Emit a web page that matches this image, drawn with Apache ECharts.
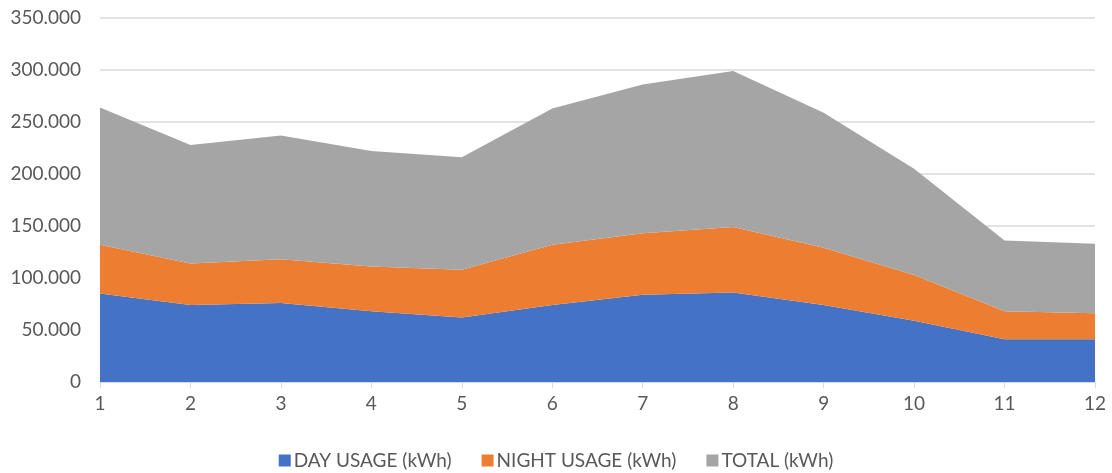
<!DOCTYPE html>
<html>
<head>
<meta charset="utf-8">
<script src="https://cdn.jsdelivr.net/npm/echarts@6/dist/echarts.min.js"></script>
<style>
  html, body { margin: 0; padding: 0; background: #fff; }
  #chart { width: 1112px; height: 473px; }
</style>
</head>
<body>
<div id="chart"></div>
<script>
// months on the x axis
var months = ['1', '2', '3', '4', '5', '6', '7', '8', '9', '10', '11', '12']
// values (kWh)
var dayUsage = [85, 74, 76, 68, 62, 74, 84, 86, 74, 59, 41, 41]
var nightUsage = [47, 40, 42, 43, 46, 58, 59, 63, 55, 44, 27, 25]
var totalUsage = [132, 114, 119, 111, 108, 131, 143, 150, 130, 102, 68, 67]

var textColor = '#595959'
var fontName = 'Lato, "Noto Sans", sans-serif'

var chart = echarts.init(document.getElementById('chart'))

function areaSeries (name, color, data) {
  return {
    name: name,
    type: 'line',
    stack: 'usage',
    symbol: 'none',
    lineStyle: { width: 0 },
    areaStyle: { color: color, opacity: 1 },
    itemStyle: { color: color },
    data: data
  }
}

var option = {
  animation: false,
  textStyle: { fontFamily: fontName },
  grid: {
    left: 100,
    right: 17,
    top: 18,
    bottom: 91
  },
  legend: {
    top: 446,
    left: 'center',
    itemWidth: 12,
    itemHeight: 12,
    itemGap: 30,
    icon: 'rect',
    textStyle: { color: textColor, fontSize: 19, fontFamily: fontName, padding: [0, 0, 0, -2] },
    data: ['DAY USAGE (kWh)', 'NIGHT USAGE (kWh)', 'TOTAL (kWh)']
  },
  xAxis: {
    type: 'category',
    boundaryGap: false,
    data: months,
    axisLine: { lineStyle: { color: '#d9d9d9' } },
    axisTick: { show: true, length: 6, lineStyle: { color: '#d9d9d9' } },
    axisLabel: { color: textColor, fontSize: 19, margin: 12 }
  },
  yAxis: {
    type: 'value',
    min: 0,
    max: 350,
    interval: 50,
    axisLine: { show: false },
    axisTick: { show: false },
    splitLine: { lineStyle: { color: '#d9d9d9', width: 1.5 } },
    axisLabel: {
      color: textColor,
      fontSize: 19,
      margin: 19,
      formatter: function (v) {
        return v === 0 ? '0' : v.toFixed(3)
      }
    }
  },
  series: [
    areaSeries('DAY USAGE (kWh)', '#4472C4', dayUsage),
    areaSeries('NIGHT USAGE (kWh)', '#ED7D31', nightUsage),
    areaSeries('TOTAL (kWh)', '#A5A5A5', totalUsage)
  ]
}

chart.setOption(option)
</script>
</body>
</html>
